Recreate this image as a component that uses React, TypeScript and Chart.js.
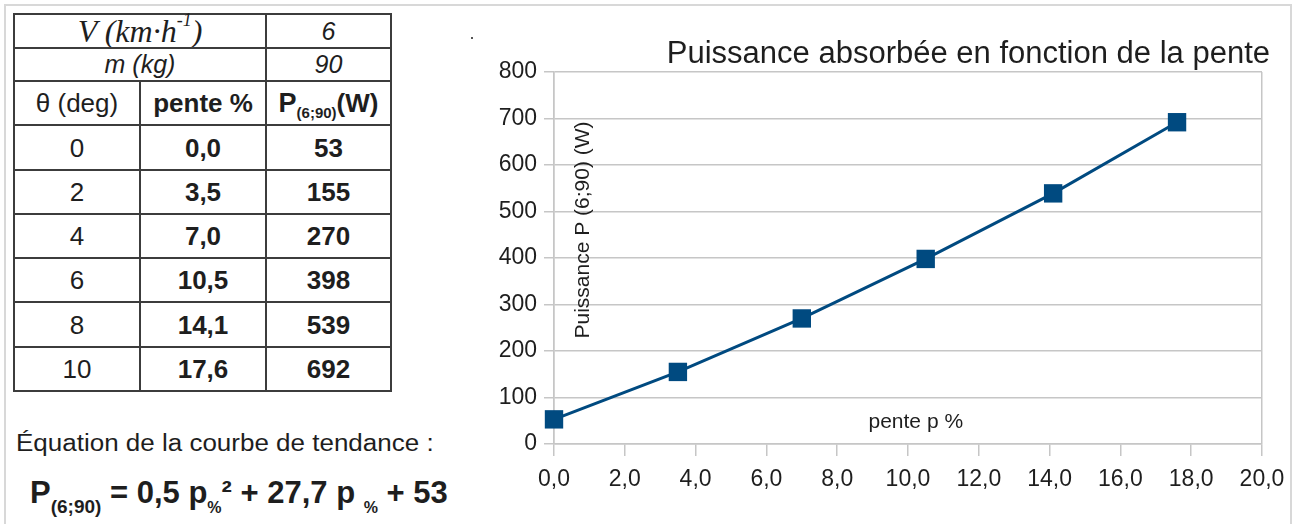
import React, { useEffect, useRef } from "react";
import { Chart, registerables } from "chart.js";
Chart.register(...registerables);

// ---- data ----
const thetaDeg = [0, 2, 4, 6, 8, 10];
const pentePct = [0.0, 3.5, 7.0, 10.5, 14.1, 17.6];
const puissanceW = [53, 155, 270, 398, 539, 692];
const vitesseKmh = 6;
const masseKg = 90;
const trendCoeffs = [0.5, 27.7, 53];
const chartTitle = "Puissance absorbée en fonction de la pente";
const yAxisTitle = "Puissance P (6;90) (W)";
const xAxisTitle = "pente p %";
const xRange = [0, 20];
const xStep = 2;
const yRange = [0, 800];
const yStep = 100;

const fmt1 = (v: number) => v.toFixed(1).replace(".", ",");
const SANS = "'Liberation Sans', Arial, sans-serif";
const SERIF = "'Liberation Serif', 'Times New Roman', serif";
const SERIES = "#004a80";
const GRID = "#c6c6c6";
const TXT = "#1e1e1e";

const annotPlugin = {
  id: "annots",
  afterDraw(chart: any) {
    const { ctx, chartArea: a } = chart;
    ctx.save();
    ctx.fillStyle = "#1e1e1e";
    ctx.font = `31px ${SANS}`;
    ctx.textAlign = "right";
    ctx.textBaseline = "alphabetic";
    ctx.fillText(chartTitle, a.right + 8, a.top - 9);
    ctx.font = `21px ${SANS}`;
    ctx.textAlign = "center";
    ctx.fillText(xAxisTitle, a.left + (a.right - a.left) * 0.511, a.bottom - 16);
    ctx.translate(a.left + 29, a.top + 158);
    ctx.rotate(-Math.PI / 2);
    ctx.textBaseline = "middle";
    ctx.fillText(yAxisTitle, 0, 0);
    ctx.restore();
  },
};

function ChartPanel() {
  const ref = useRef<HTMLCanvasElement | null>(null);
  useEffect(() => {
    if (!ref.current) return;
    const chart = new Chart(ref.current, {
      type: "line",
      data: {
        datasets: [
          {
            data: pentePct.map((x, i) => ({ x, y: puissanceW[i] })),
            borderColor: SERIES,
            backgroundColor: SERIES,
            borderWidth: 3,
            pointStyle: "rect",
            pointRadius: 13,
            pointBorderWidth: 0,
            pointBackgroundColor: SERIES,
            tension: 0,
            clip: false,
          },
        ],
      },
      options: {
        animation: false,
        responsive: false,
        events: [],
        layout: { padding: { left: 0, top: 72, right: 35, bottom: 20 } },
        plugins: { legend: { display: false }, tooltip: { enabled: false }, title: { display: false } },
        scales: {
          x: {
            type: "linear",
            min: xRange[0],
            max: xRange[1],
            ticks: {
              stepSize: xStep,
              callback: (v: any) => fmt1(Number(v)),
              font: { family: SANS, size: 23 },
              color: TXT,
              padding: 10,
              maxRotation: 0,
              autoSkip: false,
            },
            grid: {
              color: (c: any) =>
                c.tick && (c.tick.value === xRange[0] || c.tick.value === xRange[1]) ? GRID : "rgba(0,0,0,0)",
              tickColor: GRID,
              tickLength: 12,
              lineWidth: 1.5,
            },
            border: { display: true, color: GRID, width: 1.5 },
            afterFit: (s: any) => {
              s.height = 60;
            },
          },
          y: {
            min: yRange[0],
            max: yRange[1],
            ticks: {
              stepSize: yStep,
              font: { family: SANS, size: 23 },
              color: TXT,
              padding: 7,
            },
            grid: { color: GRID, tickColor: GRID, tickLength: 10, lineWidth: 1.5 },
            border: { display: true, color: GRID, width: 1.5 },
            afterFit: (s: any) => {
              s.width = 84;
            },
          },
        },
      },
      plugins: [annotPlugin],
    } as any);
    return () => chart.destroy();
  }, []);
  return (
    <canvas
      ref={ref}
      width={827}
      height={524}
      style={{ position: "absolute", left: 470, top: 0, width: 827, height: 524 }}
    />
  );
}

const colX = [14, 140, 266, 391];
const rowY = [14, 48, 81, 125, 170, 214, 258, 302, 347, 391];

function Cell(props: { c0: number; c1: number; r: number; children?: any; style?: any }) {
  const x0 = colX[props.c0];
  const x1 = colX[props.c1];
  const y0 = rowY[props.r];
  const y1 = rowY[props.r + 1];
  return (
    <div
      style={{
        position: "absolute",
        left: x0 - 1,
        top: y0 - 1,
        width: x1 - x0 + 2,
        height: y1 - y0 + 2,
        border: "2px solid #3c3c3c",
        boxSizing: "border-box",
        display: "flex",
        alignItems: "center",
        justifyContent: "center",
        fontFamily: SANS,
        fontSize: 26,
        color: TXT,
        whiteSpace: "nowrap",
        lineHeight: 1,
        ...props.style,
      }}
    >
      {props.children}
    </div>
  );
}

export default function App() {
  const bold = { fontWeight: "bold" };
  return (
    <div
      style={{
        position: "absolute",
        left: 0,
        top: 0,
        width: 1297,
        height: 524,
        background: "#ffffff",
        overflow: "hidden",
      }}
    >
      <div
        style={{
          position: "absolute",
          left: 4,
          top: 4,
          width: 1288,
          height: 600,
          border: "2px solid #d8d8d8",
          boxSizing: "border-box",
        }}
      />
      {/* table */}
      <Cell c0={0} c1={2} r={0} style={{ fontFamily: SERIF, fontStyle: "italic", fontSize: 32 }}>
        V (km·h<span style={{ fontSize: 18, position: "relative", top: -11 }}>-1</span>)
      </Cell>
      <Cell c0={2} c1={3} r={0} style={{ fontStyle: "italic", fontSize: 25 }}>
        {String(vitesseKmh)}
      </Cell>
      <Cell c0={0} c1={2} r={1} style={{ fontStyle: "italic", fontSize: 25 }}>
        m (kg)
      </Cell>
      <Cell c0={2} c1={3} r={1} style={{ fontStyle: "italic", fontSize: 25 }}>
        {String(masseKg)}
      </Cell>
      <Cell c0={0} c1={1} r={2}>θ (deg)</Cell>
      <Cell c0={1} c1={2} r={2} style={bold}>
        pente %
      </Cell>
      <Cell c0={2} c1={3} r={2} style={bold}>
        <span style={{ fontSize: 27 }}>P</span>
        <span style={{ fontSize: 15, position: "relative", top: 9 }}>(6;90)</span>(W)
      </Cell>
      {thetaDeg.map((t, i) => (
        <React.Fragment key={i}>
          <Cell c0={0} c1={1} r={3 + i}>
            {String(t)}
          </Cell>
          <Cell c0={1} c1={2} r={3 + i} style={bold}>
            {fmt1(pentePct[i])}
          </Cell>
          <Cell c0={2} c1={3} r={3 + i} style={bold}>
            {String(puissanceW[i])}
          </Cell>
        </React.Fragment>
      ))}
      {/* equation */}
      <div
        style={{
          position: "absolute",
          left: 16,
          top: 432,
          fontFamily: SANS,
          fontSize: 23,
          lineHeight: "23px",
          color: TXT,
          whiteSpace: "nowrap",
          transform: "scaleX(1.13)",
          transformOrigin: "left top",
        }}
      >
        Équation de la courbe de tendance :
      </div>
      <div
        style={{
          position: "absolute",
          left: 30,
          top: 477,
          fontFamily: SANS,
          fontSize: 31,
          lineHeight: "31px",
          fontWeight: "bold",
          color: TXT,
          whiteSpace: "nowrap",
        }}
      >
        P<span style={{ fontSize: 19, position: "relative", top: 10 }}>(6;90)</span>
        {" = " + fmt1(trendCoeffs[0]) + " p"}
        <span style={{ fontSize: 16, position: "relative", top: 10 }}>%</span>
        <span style={{ fontSize: 31, position: "relative", top: -1 }}>²</span>
        {" + " + fmt1(trendCoeffs[1]) + " p "}
        <span style={{ fontSize: 16, position: "relative", top: 10 }}>%</span>
        {" + " + String(trendCoeffs[2])}
      </div>
      <div style={{ position: "absolute", left: 471, top: 37, width: 2, height: 2, background: "#555" }} />
      <ChartPanel />
    </div>
  );
}
